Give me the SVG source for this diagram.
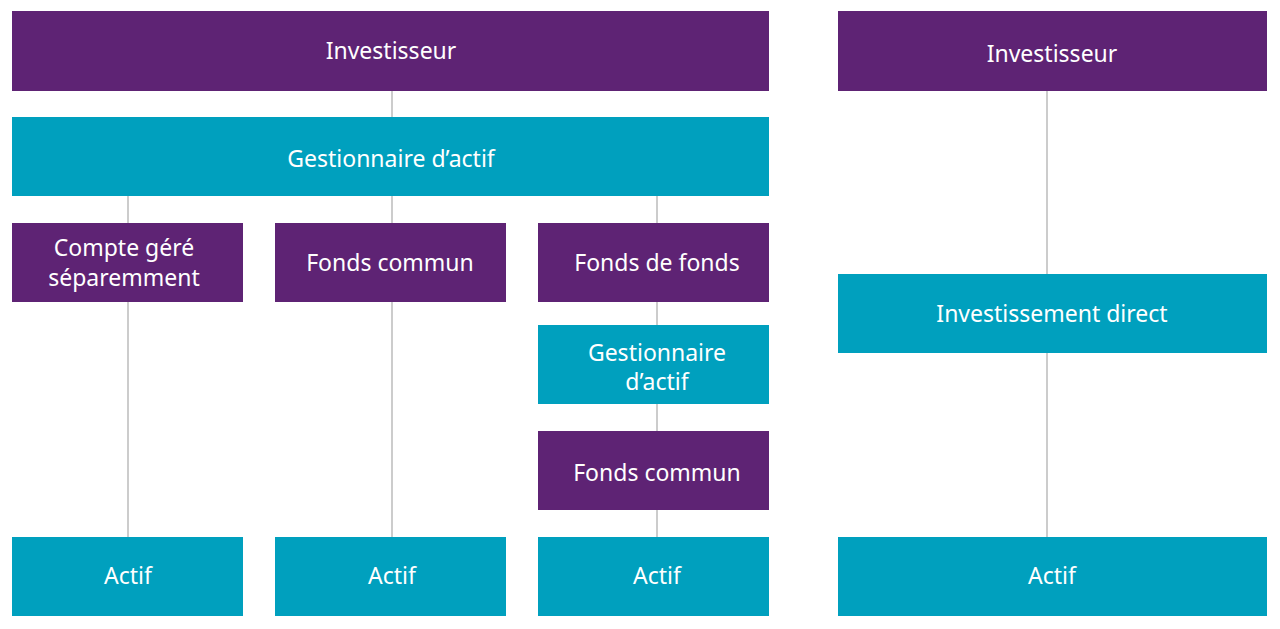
<svg xmlns="http://www.w3.org/2000/svg" width="1280" height="629" viewBox="0 0 1280 629">
<style>
.p{fill:#5E2374}.t{fill:#00A0BE}
text{font-family:"Noto Sans","Liberation Sans",sans-serif;font-size:23px;fill:#fff;text-anchor:middle;dominant-baseline:central}
line{stroke:#999;stroke-width:1}
</style>
<rect width="1280" height="629" fill="#fff"/>
<g id="connectors">
<line x1="392" y1="91" x2="392" y2="117"/>
<line x1="128" y1="196" x2="128" y2="223"/><line x1="128" y1="302" x2="128" y2="537"/>
<line x1="392" y1="196" x2="392" y2="223"/><line x1="392" y1="302" x2="392" y2="537"/>
<line x1="657" y1="196" x2="657" y2="223"/><line x1="657" y1="302" x2="657" y2="325"/>
<line x1="657" y1="404" x2="657" y2="431"/><line x1="657" y1="510" x2="657" y2="537"/>
<line x1="1047" y1="91" x2="1047" y2="274"/><line x1="1047" y1="353" x2="1047" y2="537"/>
</g>
<g id="inv1"><rect class="p" x="12" y="11" width="757" height="80"/><text x="391" y="50">Investisseur</text></g>
<g id="gest1"><rect class="t" x="12" y="117" width="757" height="79"/><text x="391" y="158">Gestionnaire d’actif</text></g>
<g id="compte"><rect class="p" x="12" y="223" width="231" height="79"/><text x="124" y="247">Compte géré</text><text x="124" y="277">séparemment</text></g>
<g id="fonds1"><rect class="p" x="275" y="223" width="231" height="79"/><text x="390" y="262">Fonds commun</text></g>
<g id="fdf"><rect class="p" x="538" y="223" width="231" height="79"/><text x="657" y="262">Fonds de fonds</text></g>
<g id="gest2"><rect class="t" x="538" y="325" width="231" height="79"/><text x="657" y="352">Gestionnaire</text><text x="657" y="381">d’actif</text></g>
<g id="fonds2"><rect class="p" x="538" y="431" width="231" height="79"/><text x="657" y="472">Fonds commun</text></g>
<g id="actif1"><rect class="t" x="12" y="537" width="231" height="79"/><text x="128" y="575">Actif</text></g>
<g id="actif2"><rect class="t" x="275" y="537" width="231" height="79"/><text x="392" y="575">Actif</text></g>
<g id="actif3"><rect class="t" x="538" y="537" width="231" height="79"/><text x="657" y="575">Actif</text></g>
<g id="inv2"><rect class="p" x="838" y="11" width="429" height="80"/><text x="1052" y="53">Investisseur</text></g>
<g id="direct"><rect class="t" x="838" y="274" width="429" height="79"/><text x="1052" y="313">Investissement direct</text></g>
<g id="actif4"><rect class="t" x="838" y="537" width="429" height="79"/><text x="1052" y="575">Actif</text></g>
</svg>
